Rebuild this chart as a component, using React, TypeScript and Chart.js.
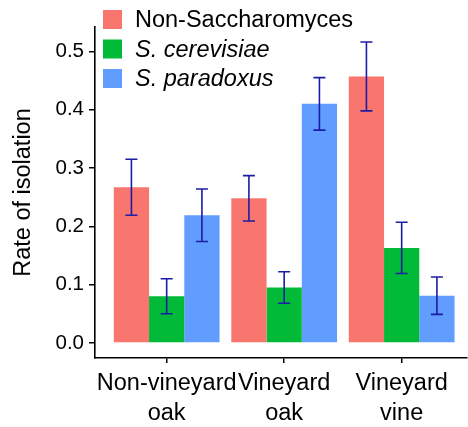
import React, { useEffect, useRef } from "react";
import { Chart, registerables } from "chart.js";

Chart.register(...registerables);

const categories: string[][] = [["Non-vineyard", "oak"], ["Vineyard", "oak"], ["Vineyard", "vine"]];
const seriesNames = ["Non-Saccharomyces", "S. cerevisiae", "S. paradoxus"];
const seriesItalic = [false, true, true];
const seriesColors = ["#F8766D", "#00BA38", "#619CFF"];
const nonSacc = [0.267, 0.248, 0.457];
const cerevisiae = [0.08, 0.095, 0.163];
const paradoxus = [0.219, 0.41, 0.081];
const nonSaccErr = [0.048, 0.039, 0.059];
const cerevisiaeErr = [0.03, 0.027, 0.044];
const paradoxusErr = [0.045, 0.045, 0.032];
const yTicks = [0, 0.1, 0.2, 0.3, 0.4, 0.5];

const FONT = "'Liberation Sans', Arial, Helvetica, sans-serif";

const errorBarPlugin = {
  id: "errorBars",
  afterDatasetsDraw(chart: any) {
    const ctx = chart.ctx;
    const yScale = chart.scales.y;
    ctx.save();
    ctx.strokeStyle = "rgb(28,28,165)";
    ctx.lineWidth = 1.6;
    chart.data.datasets.forEach((ds: any, d: number) => {
      const meta = chart.getDatasetMeta(d);
      meta.data.forEach((el: any, i: number) => {
        const v = ds.data[i].y;
        const e = ds.errors[i];
        const yt = yScale.getPixelForValue(v + e);
        const yb = yScale.getPixelForValue(v - e);
        const x = el.x;
        ctx.beginPath();
        ctx.moveTo(x, yt);
        ctx.lineTo(x, yb);
        ctx.moveTo(x - 6, yt);
        ctx.lineTo(x + 6, yt);
        ctx.moveTo(x - 6, yb);
        ctx.lineTo(x + 6, yb);
        ctx.stroke();
      });
    });
    ctx.restore();
  },
};

const legendPlugin = {
  id: "insideLegend",
  afterDraw(chart: any) {
    const ctx = chart.ctx;
    ctx.save();
    chart.data.datasets.forEach((ds: any, d: number) => {
      const y = 10 + d * 29.5;
      ctx.fillStyle = ds.backgroundColor;
      ctx.fillRect(103, y, 19, 19);
      ctx.fillStyle = "#000";
      ctx.font = `${ds.italic ? "italic " : ""}23.5px ${FONT}`;
      ctx.textBaseline = "middle";
      ctx.textAlign = "left";
      ctx.fillText(ds.label, 135, y + 10.5);
    });
    ctx.restore();
  },
};

export default function App() {
  const ref = useRef<HTMLCanvasElement>(null);
  useEffect(() => {
    if (!ref.current) return;
    const values = [nonSacc, cerevisiae, paradoxus];
    const errs = [nonSaccErr, cerevisiaeErr, paradoxusErr];
    const chart = new Chart(ref.current, {
      type: "bar",
      data: {
        datasets: seriesNames.map((name, s) => ({
          label: name,
          italic: seriesItalic[s],
          backgroundColor: seriesColors[s],
          borderWidth: 0,
          errors: errs[s],
          data: values[s].map((v, i) => ({ x: i + 1, y: v })),
          categoryPercentage: 0.9,
          barPercentage: 1.0,
        })) as any,
      },
      options: {
        animation: false,
        responsive: true,
        maintainAspectRatio: false,
        layout: { padding: { top: 27, right: 1, left: 0, bottom: 0 } },
        plugins: { legend: { display: false }, tooltip: { enabled: false } },
        scales: {
          x: {
            type: "linear",
            offset: false,
            min: 0.39,
            max: 3.556,
            afterBuildTicks: (scale: any) => {
              scale.ticks = categories.map((_, i) => ({ value: i + 1 }));
            },
            afterFit: (scale: any) => {
              scale.height = 69;
            },
            ticks: {
              autoSkip: false,
              maxRotation: 0,
              color: "#000",
              font: { family: FONT, size: 23.5, lineHeight: 1.27 },
              padding: 6,
              callback: (v: any) => categories[Math.round(Number(v)) - 1] ?? "",
            },
            grid: { offset: false, drawOnChartArea: false, drawTicks: true, tickLength: 5, color: "#000", lineWidth: 1.5 },
            border: { display: true, color: "#000", width: 1.6 },
          },
          y: {
            min: -0.0258,
            max: 0.5418,
            afterBuildTicks: (scale: any) => {
              scale.ticks = yTicks.map((v) => ({ value: v }));
            },
            afterFit: (scale: any) => {
              scale.width = 95;
            },
            ticks: {
              color: "#000",
              font: { family: FONT, size: 20.5 },
              padding: 5,
              callback: (v: any) => Number(v).toFixed(1),
            },
            grid: { drawOnChartArea: false, drawTicks: true, tickLength: 6, color: "#000", lineWidth: 1.5 },
            border: { display: true, color: "#000", width: 1.6 },
            title: {
              display: true,
              text: "Rate of isolation",
              color: "#000",
              font: { family: FONT, size: 23.5 },
              padding: { top: 9, bottom: 0 },
            },
          },
        },
      } as any,
      plugins: [errorBarPlugin, legendPlugin],
    });
    return () => chart.destroy();
  }, []);
  return (
    <div style={{ position: "fixed", left: 0, top: 0, width: 468, height: 427, background: "#fff" }}>
      <canvas ref={ref} />
    </div>
  );
}
